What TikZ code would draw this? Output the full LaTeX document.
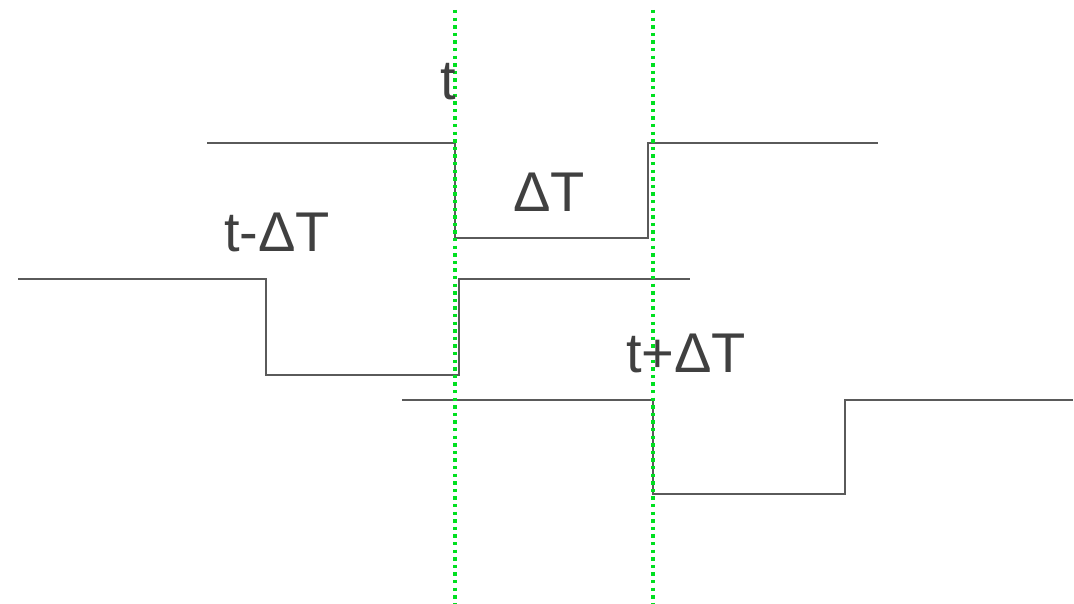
\documentclass[tikz,border=0pt]{standalone}
\usepackage{fontspec}
\setmainfont{Liberation Sans}
\definecolor{lbl}{HTML}{404040}
\definecolor{sig}{HTML}{5A5A5A}
\definecolor{grn}{HTML}{00E020}
\begin{document}
\begin{tikzpicture}[x=1pt,y=-1pt,
  siglin/.style={draw=sig,line width=1.1pt},
  guide/.style={draw=grn,line width=3.6pt,dash pattern=on 3.4pt off 4.2pt},
  lab/.style={text=lbl,inner sep=0pt,anchor=base west,font=\fontsize{56}{60}\selectfont}]
\useasboundingbox (0,0) rectangle (1074,604);
% signal 1
\coordinate (a1) at (207,143);
\coordinate (a2) at (455,143);
\coordinate (a3) at (455,238);
\coordinate (a4) at (648,238);
\coordinate (a5) at (648,143);
\coordinate (a6) at (878,143);
\draw[siglin] (a1) -- (a2) -- (a3) -- (a4) -- (a5) -- (a6);
% signal 2
\coordinate (b1) at (18,279);
\coordinate (b2) at (266,279);
\coordinate (b3) at (266,375);
\coordinate (b4) at (459,375);
\coordinate (b5) at (459,279);
\coordinate (b6) at (690,279);
\draw[siglin] (b1) -- (b2) -- (b3) -- (b4) -- (b5) -- (b6);
% signal 3
\coordinate (c1) at (402,400);
\coordinate (c2) at (653,400);
\coordinate (c3) at (653,494);
\coordinate (c4) at (845,494);
\coordinate (c5) at (845,400);
\coordinate (c6) at (1073,400);
\draw[siglin] (c1) -- (c2) -- (c3) -- (c4) -- (c5) -- (c6);
% guides
\coordinate (g1t) at (455,10);
\coordinate (g1b) at (455,604);
\coordinate (g2t) at (653,10);
\coordinate (g2b) at (653,604);
\draw[guide] (g1t) -- (g1b);
\draw[guide] (g2t) -- (g2b);
% labels
\node[lab] (lt) at (440,100) {t};
\node[lab] (ldt) at (513,212) {ΔT};
\node[lab] (lm) at (224,252) {t-ΔT};
\node[lab] (lp) at (626,372) {t+ΔT};
\end{tikzpicture}
\end{document}
